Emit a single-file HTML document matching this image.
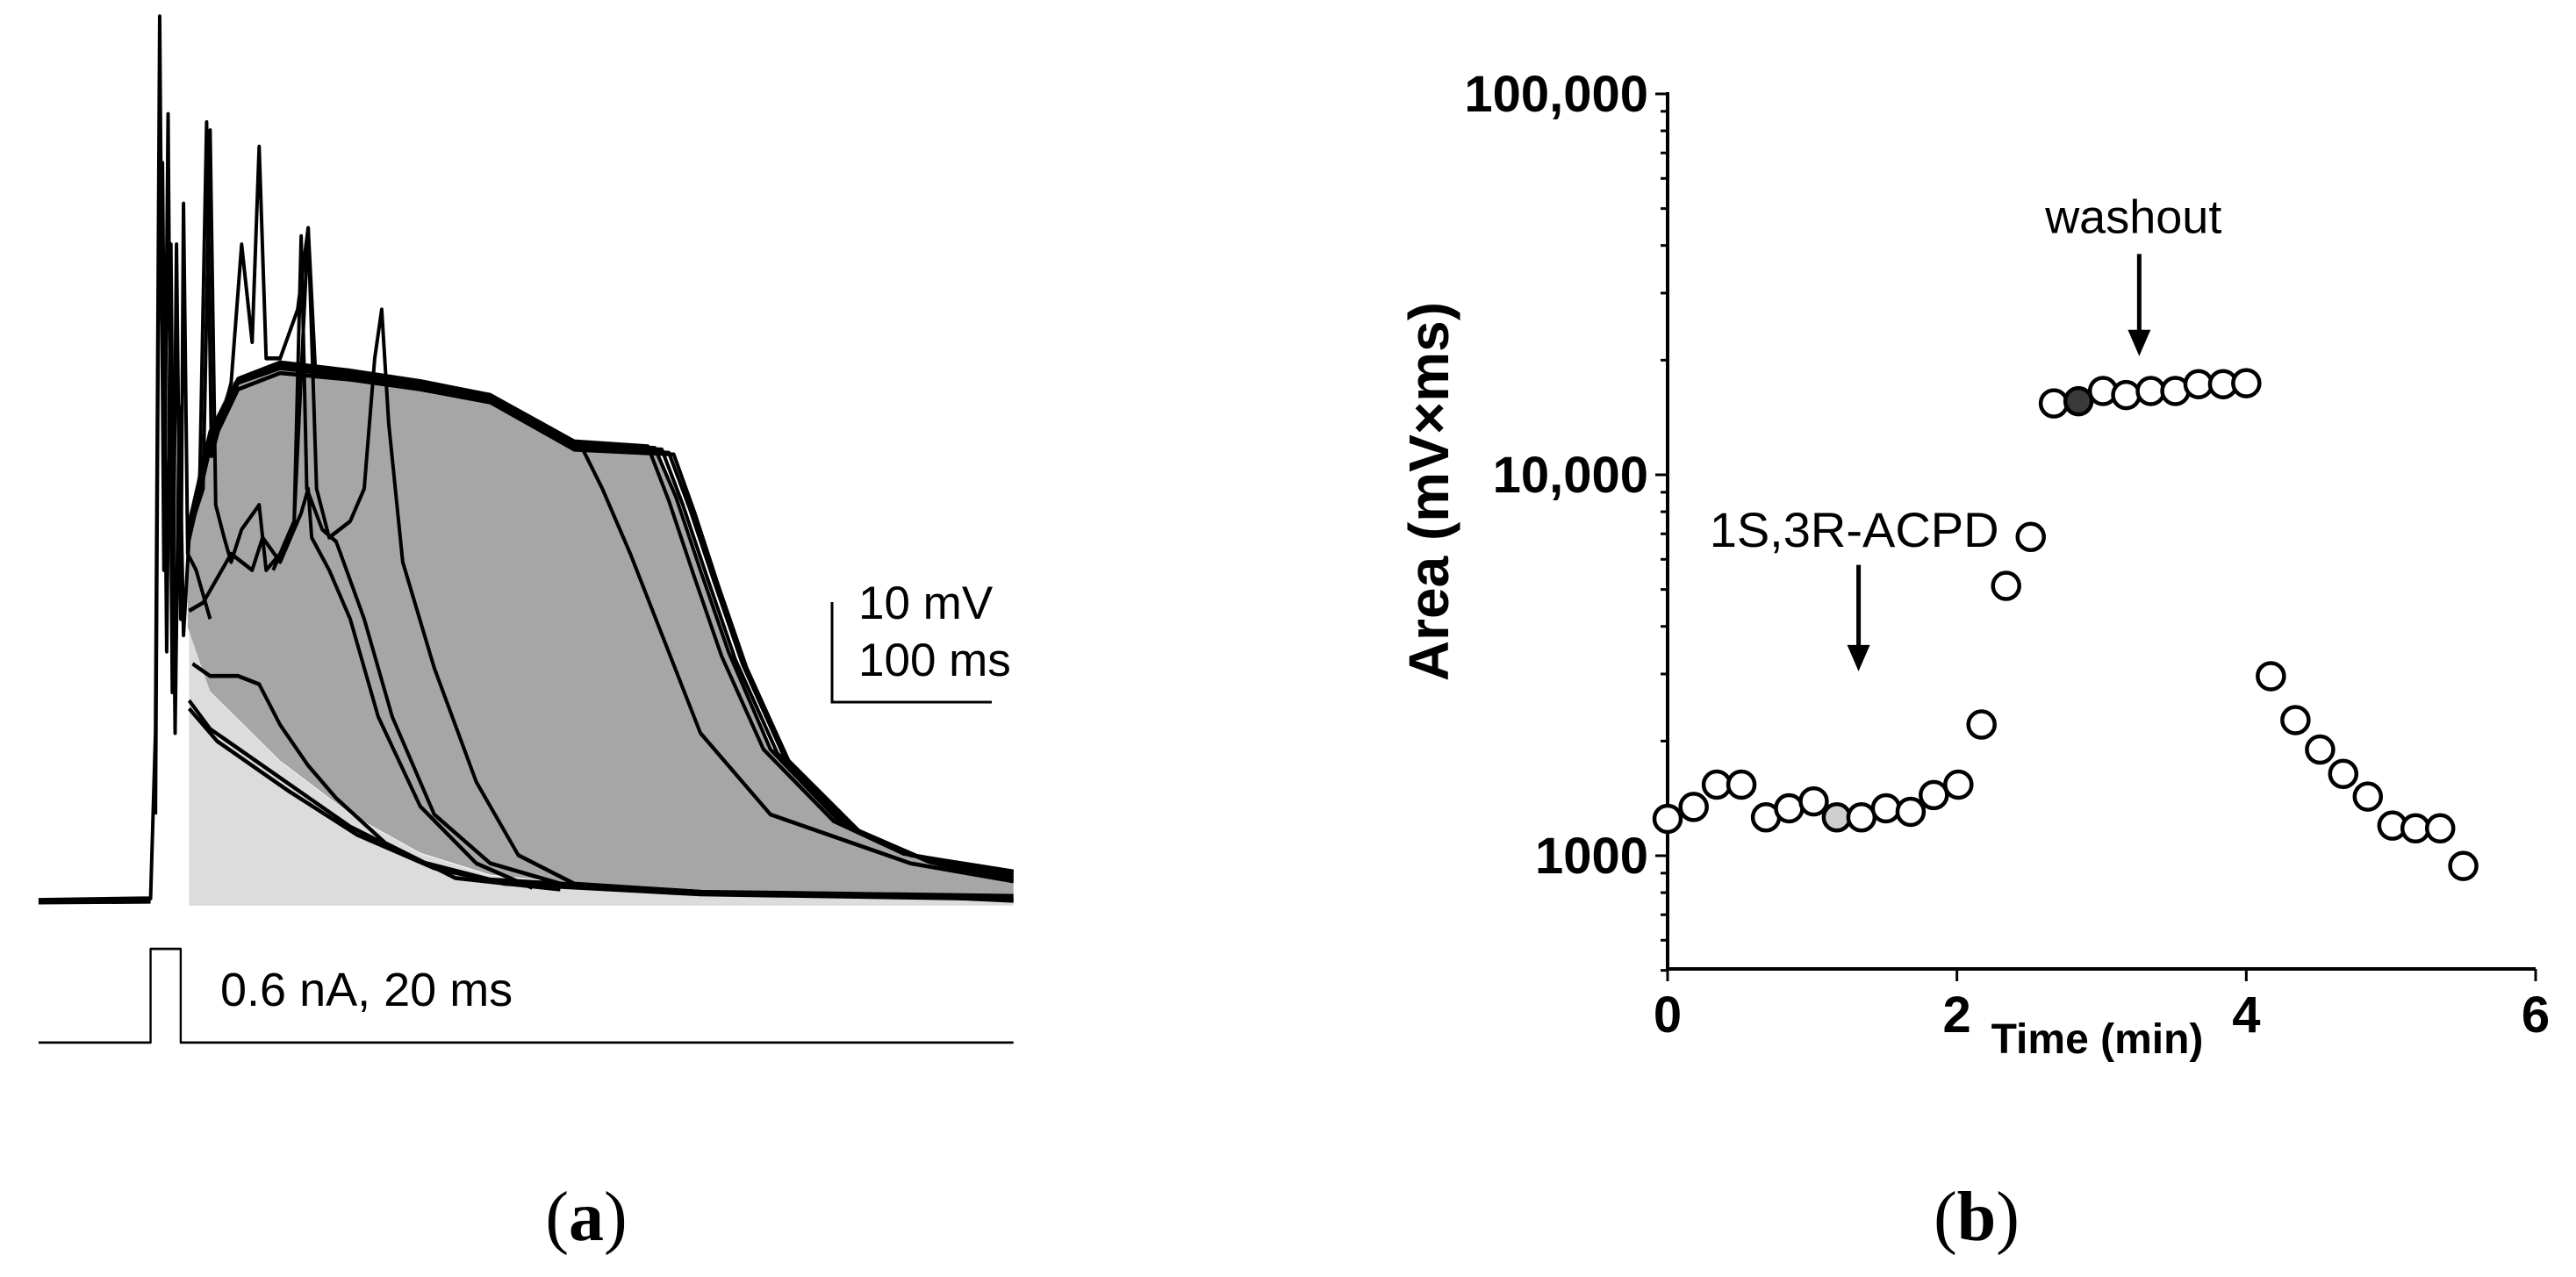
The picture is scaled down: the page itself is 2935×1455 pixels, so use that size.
<!DOCTYPE html>
<html><head><meta charset="utf-8">
<style>
html,body{margin:0;padding:0;background:#fff;}
svg{display:block;}
text{font-family:"Liberation Sans",Arial,sans-serif;}
</style></head>
<body>
<svg id="fig" width="2935" height="1455" viewBox="0 0 2935 1455" xmlns="http://www.w3.org/2000/svg">
  <g>
    <g transform="scale(0.798,0.928)" fill="none" stroke="#000" stroke-linejoin="round">
      <path fill="#dcdcdc" stroke="none"
        d="M270,770 L300,850 L400,935 L500,1000 L600,1048 L700,1075 L900,1092 L1200,1100 L1447,1102 L1447,1112 L270,1112 Z"/>
      <path fill="#a6a6a6" stroke="none"
        d="M268,700 L285,560 L330,470 L400,445 L450,450 L540,468 L700,485 L820,540 L935,548 L965,610 L1000,700 L1040,800 L1100,920 L1200,1010 L1300,1050 L1447,1068 L1447,1100 L1200,1099 L900,1091 L700,1074 L600,1047 L500,999 L400,934 L300,849 L268,770 Z"/>
      <g stroke-width="5">
        <path d="M55,1105 L215,1103 L222,900 L228,20 L234,700 L240,140 L246,850 L252,300 L258,760 L262,250 L268,680 L280,700 L300,760"/>
        <path d="M222,1000 L226,400 L232,200 L238,800 L244,300 L250,900 L256,500 L262,780 L270,660"/>
        <path d="M268,660 L285,600 L295,150 L302,560 L330,470 L345,300 L360,420 L370,180 L380,440 L400,440 L425,380 L440,280 L450,450 L500,460 L540,470 L600,472 L700,485 L820,545 L935,550 L965,610 L1000,700 L1040,800 L1100,920 L1200,1010 L1300,1050 L1447,1070"/>
        <path d="M268,660 L300,540 L340,470 L400,450 L500,458 L600,470 L700,488 L820,548 L945,552 L975,620 L1010,710 L1050,810 L1110,925 L1210,1015 L1310,1052 L1447,1075"/>
        <path d="M268,650 L300,530 L340,465 L400,445 L500,455 L600,468 L700,485 L820,542 L925,548 L955,615 L990,705 L1030,805 L1090,920 L1190,1008 L1290,1048 L1447,1072"/>
        <path d="M268,660 L300,545 L340,470 L400,452 L500,462 L600,474 L700,490 L820,550 L955,556 L985,625 L1020,715 L1060,815 L1120,930 L1220,1018 L1320,1055 L1447,1078"/>
        <path d="M268,670 L300,550 L340,478 L400,458 L500,466 L600,478 L700,494 L820,552 L962,558 L992,630 L1026,720 L1066,820 L1126,934 L1226,1020 L1326,1058 L1447,1082"/>
        <path d="M268,655 L300,540 L340,468 L400,448 L500,458 L600,471 L700,487 L830,548 L860,600 L900,680 L950,790 L1000,900 L1100,1000 L1300,1060 L1447,1082"/>
        <path d="M275,640 L290,600 L300,160 L308,620 L320,660 L330,690 L345,650 L370,620 L380,700 L400,680 L420,640 L430,290 L438,600 L460,650 L480,665 L520,760 L560,880 L620,1000 L700,1060 L800,1085 L1000,1095"/>
        <path d="M390,700 L420,640 L440,280 L452,600 L470,660 L500,640 L520,600 L535,440 L545,380 L555,520 L575,690 L620,820 L680,960 L740,1050 L820,1085 L1000,1095"/>
        <path d="M270,750 L290,740 L330,680 L360,700 L375,660 L400,690 L430,630 L440,600 L445,660 L470,700 L500,760 L540,880 L600,990 L680,1060 L760,1090"/>
        <path d="M275,815 L300,830 L340,830 L370,840 L400,890 L440,940 L480,980 L550,1035 L650,1078 L800,1092"/>
        <path d="M270,860 L300,895 L400,955 L500,1015 L600,1058 L700,1080 L1000,1095 L1447,1100"/>
        <path d="M270,870 L310,910 L410,970 L510,1025 L620,1066 L720,1085 L1000,1098 L1447,1104"/>
        <path d="M55,1108 L215,1107 M1300,1100 L1447,1106"/>
      </g>
      <path stroke-width="3" d="M55,1280 L215,1280 L215,1165 L258,1165 L258,1280 L1447,1280"/>
    </g>
    <text x="251" y="1146" font-size="54">0.6 nA, 20 ms</text>
    <path d="M948,686 L948,800 L1130,800" fill="none" stroke="#000" stroke-width="3"/>
    <text x="978" y="705" font-size="53">10 mV</text>
    <text x="978" y="770" font-size="53">100 ms</text>
    <text x="668" y="1413" font-size="80" text-anchor="middle" style="font-family:'Liberation Serif',serif">(<tspan font-weight="bold">a</tspan>)</text>
  </g>
  <g id="panelB"></g>
  <text x="2252" y="1413" font-size="80" text-anchor="middle" style="font-family:'Liberation Serif',serif">(<tspan font-weight="bold">b</tspan>)</text>
</svg>
<script>
const times = [0,0.18,0.34,0.51,0.68,0.84,1.01,1.17,1.34,1.51,1.68,1.84,2.01,2.17,2.34,2.51,2.67,2.84,3.01,3.17,3.34,3.51,3.67,3.84,4.0,4.17,4.34,4.51,4.67,4.84,5.01,5.17,5.34,5.50];
const areas = [1250,1343,1537,1537,1261,1332,1389,1261,1261,1332,1304,1443,1537,2210,5110,6870,15400,15600,16600,16200,16600,16600,17300,17300,17400,2960,2270,1900,1640,1430,1200,1180,1180,940];
const fills = ['w','w','w','w','w','w','w','g','w','w','w','w','w','w','w','w','w','d','w','w','w','w','w','w','w','w','w','w','w','w','w','w','w','w'];
const xTicks = [0,2,4,6];
const yTicks = [1000,10000,100000];
const yTickLabels = ['1000','10,000','100,000'];
const yMin = 500, yMax = 100000, xMin = 0, xMax = 6;

const NS='http://www.w3.org/2000/svg';
const X0=1900, X1=2889, YB=1104, Y1000=975, DEC=434;
function xs(t){return X0+(t-xMin)/(xMax-xMin)*(X1-X0);}
function ys(v){return Y1000-(Math.log10(v)-3)*DEC;}
const g=document.getElementById('panelB');
function mk(tag,attrs){const e=document.createElementNS(NS,tag);for(const k in attrs)e.setAttribute(k,attrs[k]);g.appendChild(e);return e;}

let e;
e=mk('line',{x1:X0,y1:ys(yMax)-2,x2:X0,y2:YB,stroke:'#000','stroke-width':4});


e=mk('line',{x1:X0-2,y1:YB,x2:X1,y2:YB,stroke:'#000','stroke-width':4});



for(let d=2; d<=4; d++){
  for(let m=1;m<=9;m++){
    const v=m*Math.pow(10,d);
    if(v<yMin||v>yMax) continue;
    const major=(m===1);
    e=mk('line',{x1:X0-(major?14:8),y1:ys(v),x2:X0,y2:ys(v),stroke:'#000','stroke-width':3});
    
    
  }
}
e=mk('line',{x1:X0-14,y1:ys(100000),x2:X0,y2:ys(100000),stroke:'#000','stroke-width':3});


yTicks.forEach((v,i)=>{
  e=mk('text',{x:X0-22,y:ys(v)+20,'font-size':58,'font-weight':'bold','text-anchor':'end'});
  e.textContent=yTickLabels[i];
  
  
});
xTicks.forEach(t=>{
  e=mk('line',{x1:xs(t),y1:YB,x2:xs(t),y2:YB+14,stroke:'#000','stroke-width':3});
  
  
  e=mk('text',{x:xs(t),y:YB+72,'font-size':58,'font-weight':'bold','text-anchor':'middle'});
  e.textContent=String(t);
  
  
});
e=mk('text',{x:(X0+X1)/2-5,y:1200,'font-size':48,'font-weight':'bold','text-anchor':'middle'});
e.textContent='Time (min)';


e=mk('text',{x:0,y:0,'font-size':64,'font-weight':'bold','text-anchor':'middle',transform:'translate(1650,560) rotate(-90)'});
e.textContent='Area (mV\u00d7ms)';



function arrow(t,vTop,vBot,name){
  const x=xs(t),y0=ys(vTop),y1=ys(vBot);
  e=mk('line',{x1:x,y1:y0,x2:x,y2:y1-22,stroke:'#000','stroke-width':5});
  
  
  e=mk('polygon',{points:`${x-13},${y1-30} ${x+13},${y1-30} ${x},${y1}`,fill:'#000'});
  
  
}
arrow(1.32,5800,3050,'acpd');
arrow(3.26,38000,20500,'washout');
e=mk('text',{x:xs(1.29),y:ys(7200)+20,'font-size':56,'text-anchor':'middle'});
e.textContent='1S,3R-ACPD';


e=mk('text',{x:xs(3.22),y:ys(48000)+20,'font-size':54,'text-anchor':'middle'});
e.textContent='washout';



const fillColor={w:'#fff',g:'#cfcfcf',d:'#3a3a3a'};
times.forEach((t,i)=>{
  e=mk('circle',{cx:xs(t),cy:ys(areas[i]),r:15,fill:fillColor[fills[i]],stroke:'#000','stroke-width':4.5});
  
  
});
</script>
</body></html>
